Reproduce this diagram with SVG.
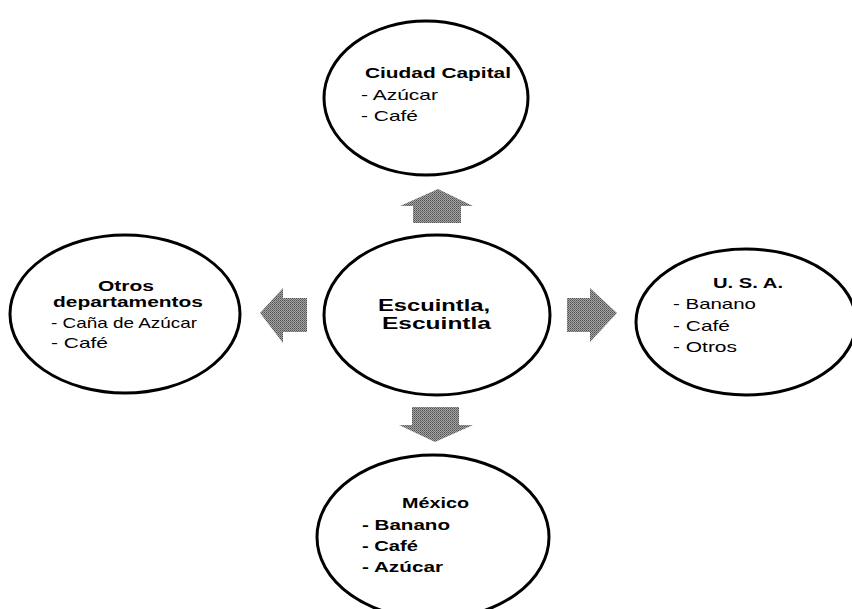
<svg xmlns="http://www.w3.org/2000/svg" width="852" height="609" viewBox="0 0 852 609">
  <style>
    .node ellipse { fill: #ffffff; stroke: #000000; stroke-width: 3; }
    text { font-family: "Liberation Sans", Arial, sans-serif; fill: #000000; }
    .t { font-size: 15px; font-weight: bold; }
    .ts { font-size: 14px; font-weight: bold; }
    .i { font-size: 15px; }
    .ib { font-size: 15px; font-weight: bold; }
    .c { font-size: 17px; font-weight: bold; }
    .arrow { fill: url(#dither); }
  </style>
  <defs>
    <pattern id="dither" width="2" height="2" patternUnits="userSpaceOnUse">
      <rect width="2" height="2" fill="#a4a4a4"/>
      <rect x="0" y="0" width="1" height="1" fill="#505050"/>
      <rect x="1" y="1" width="1" height="1" fill="#6e6e6e"/>
    </pattern>
  </defs>
  <rect width="852" height="609" fill="#ffffff"/>

  <g id="connectors">
    <polygon class="arrow" points="438,189 473,206 461,206 461,223 413,223 413,206 400,206"/>
    <polygon class="arrow" points="412,407 459,407 459,425 473,425 435,442 399,425 412,425"/>
    <polygon class="arrow" points="260,313 283,288 283,298 307,298 307,332 283,332 283,343"/>
    <polygon class="arrow" points="567,298 590,298 590,288 617,313 590,342 590,332 567,332"/>
  </g>

  <g id="node-ciudad-capital" class="node">
    <ellipse cx="426" cy="98" rx="102" ry="77"/>
    <text class="t" x="365" y="78" textLength="146" lengthAdjust="spacingAndGlyphs">Ciudad Capital</text>
    <text class="i" x="361" y="100" textLength="77" lengthAdjust="spacingAndGlyphs">- Azúcar</text>
    <text class="i" x="361" y="121" textLength="57" lengthAdjust="spacingAndGlyphs">- Café</text>
  </g>

  <g id="node-otros-departamentos" class="node">
    <ellipse cx="125" cy="314" rx="115" ry="79"/>
    <text class="ts" x="98" y="291" textLength="56" lengthAdjust="spacingAndGlyphs">Otros</text>
    <text class="ts" x="53" y="307" textLength="150" lengthAdjust="spacingAndGlyphs">departamentos</text>
    <text class="i" x="51" y="328" textLength="146" lengthAdjust="spacingAndGlyphs">- Caña de Azúcar</text>
    <text class="i" x="51" y="348" textLength="57" lengthAdjust="spacingAndGlyphs">- Café</text>
  </g>

  <g id="node-escuintla" class="node">
    <ellipse cx="437" cy="315" rx="113" ry="80"/>
    <text class="c" x="378" y="311" textLength="112" lengthAdjust="spacingAndGlyphs">Escuintla,</text>
    <text class="c" x="382" y="329" textLength="109" lengthAdjust="spacingAndGlyphs">Escuintla</text>
  </g>

  <g id="node-usa" class="node">
    <ellipse cx="746" cy="322" rx="110" ry="73"/>
    <text class="t" x="713" y="288" textLength="70" lengthAdjust="spacingAndGlyphs">U. S. A.</text>
    <text class="i" x="673" y="309" textLength="83" lengthAdjust="spacingAndGlyphs">- Banano</text>
    <text class="i" x="673" y="331" textLength="57" lengthAdjust="spacingAndGlyphs">- Café</text>
    <text class="i" x="673" y="352" textLength="64" lengthAdjust="spacingAndGlyphs">- Otros</text>
  </g>

  <g id="node-mexico" class="node">
    <ellipse cx="433" cy="537" rx="116" ry="82"/>
    <text class="t" x="402" y="508" textLength="67" lengthAdjust="spacingAndGlyphs">México</text>
    <text class="ib" x="362" y="530" textLength="88" lengthAdjust="spacingAndGlyphs">- Banano</text>
    <text class="ib" x="362" y="551" textLength="56" lengthAdjust="spacingAndGlyphs">- Café</text>
    <text class="ib" x="362" y="572" textLength="81" lengthAdjust="spacingAndGlyphs">- Azúcar</text>
  </g>
</svg>
